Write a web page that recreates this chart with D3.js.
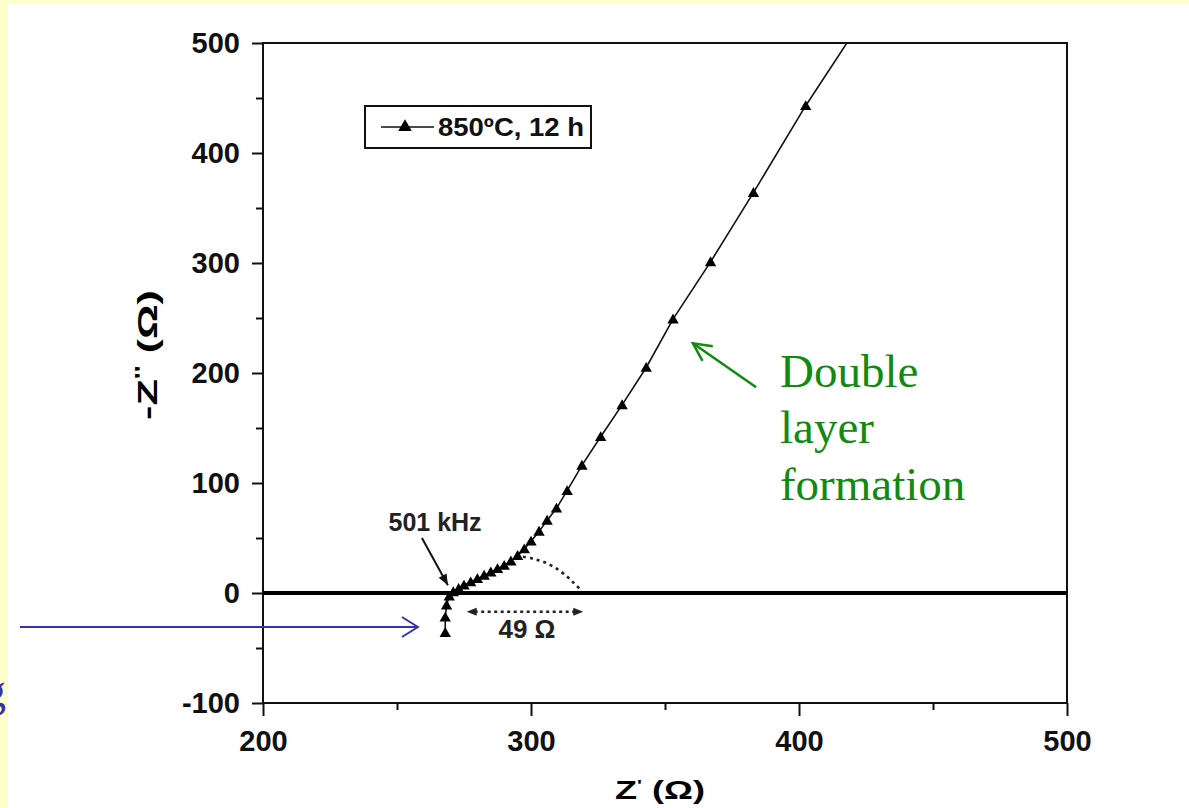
<!DOCTYPE html>
<html>
<head>
<meta charset="utf-8">
<script src="https://cdn.jsdelivr.net/npm/d3@7"></script>
<style>
  html, body { margin: 0; padding: 0; background: #ffffcc; }
  svg { display: block; }
  .tick text { font-family: 'Liberation Sans', Arial, sans-serif; font-weight: bold; font-size: 29px; fill: #111; }
  .tick line { stroke: #111; stroke-width: 2; }
</style>
</head>
<body>
<svg></svg>
<script>
// impedance data: Z' and -Z'' (ohm)
const zReal = [268, 268, 268.5, 269.5, 271, 273, 275, 277.5, 280, 282.5, 285, 287.5, 290, 292.5, 295, 297.5, 300, 303, 306, 309.5, 313.5, 319, 326, 334, 343, 353, 367, 383, 402.5, 430]
const zImag = [-36, -22, -11, -3, 1, 4, 7, 10, 13, 16, 19, 22, 25, 29, 34, 40, 47, 56, 66, 77, 93, 116, 142, 171, 205, 249, 301, 364, 443, 545]

// dotted semicircle continuation
const arcReal = [297, 301, 305, 309, 313, 316, 318.5]
const arcImag = [33, 31, 28, 23, 16, 9, 3]

const xMajor = [200, 300, 400, 500]
const xMinor = [250, 350, 450]
const yMajor = [-100, 0, 100, 200, 300, 400, 500]
const yMinor = [-50, 50, 150, 250, 350, 450]

const seriesName = '850ºC, 12 h'

const w = 1189
const h = 808
const plot = { left: 263, right: 1067, top: 43, bottom: 703 }

const svg = d3.select('svg')
  .attr('width', w)
  .attr('height', h)

// slide background: yellow border, white page
svg.append('rect')
  .attr('x', 0).attr('y', 0).attr('width', w).attr('height', h)
  .attr('fill', '#ffffcc')
svg.append('rect')
  .attr('x', 8).attr('y', 4).attr('width', w - 8).attr('height', h - 4)
  .attr('fill', '#fff')

const xScale = d3.scaleLinear()
  .domain([200, 500])
  .range([plot.left, plot.right])

const yScale = d3.scaleLinear()
  .domain([-100, 500])
  .range([plot.bottom, plot.top])

// plain hyphen for negatives, like the original
const fmt = d => String(d)

// axes
const gx = svg.append('g')
  .attr('transform', `translate(0, ${plot.bottom})`)
  .call(d3.axisBottom(xScale).tickValues(xMajor).tickSize(13).tickPadding(14).tickFormat(fmt))
gx.select('.domain').remove()

const gxMinor = svg.append('g')
  .attr('transform', `translate(0, ${plot.bottom})`)
  .call(d3.axisBottom(xScale).tickValues(xMinor).tickSize(7).tickFormat(''))
gxMinor.select('.domain').remove()

const gy = svg.append('g')
  .attr('transform', `translate(${plot.left}, 0)`)
  .call(d3.axisLeft(yScale).tickValues(yMajor).tickSize(11).tickPadding(12).tickFormat(fmt))
gy.select('.domain').remove()

const gyMinor = svg.append('g')
  .attr('transform', `translate(${plot.left}, 0)`)
  .call(d3.axisLeft(yScale).tickValues(yMinor).tickSize(7).tickFormat(''))
gyMinor.select('.domain').remove()

// frame
svg.append('rect')
  .attr('x', plot.left)
  .attr('y', plot.top)
  .attr('width', plot.right - plot.left)
  .attr('height', plot.bottom - plot.top)
  .attr('fill', 'none')
  .attr('stroke', '#111')
  .attr('stroke-width', 2)

// zero line
svg.append('line')
  .attr('x1', plot.left).attr('x2', plot.right)
  .attr('y1', yScale(0)).attr('y2', yScale(0))
  .attr('stroke', '#000')
  .attr('stroke-width', 4)

// axis titles
svg.append('text')
  .attr('x', 615)
  .attr('y', 799)
  .attr('textLength', 90)
  .attr('lengthAdjust', 'spacingAndGlyphs')
  .style('font-family', "'Liberation Sans', Arial, sans-serif")
  .style('font-weight', 'bold')
  .style('font-size', '26px')
  .html("Z<tspan dy='-9' font-size='15'>'</tspan><tspan dy='9'> (Ω)</tspan>")

svg.append('text')
  .attr('transform', 'translate(157, 420) rotate(-90)')
  .attr('textLength', 130)
  .attr('lengthAdjust', 'spacingAndGlyphs')
  .style('font-family', "'Liberation Sans', Arial, sans-serif")
  .style('font-weight', 'bold')
  .style('font-size', '27px')
  .html("-Z<tspan dy='-9' font-size='18'>''</tspan><tspan dy='9'> (Ω)</tspan>")

// clip for the data
svg.append('clipPath')
  .attr('id', 'plot-clip')
  .append('rect')
  .attr('x', plot.left).attr('y', plot.top)
  .attr('width', plot.right - plot.left)
  .attr('height', plot.bottom - plot.top)

const points = zReal.map((d, i) => ({ x: d, y: zImag[i] }))
const dataG = svg.append('g').attr('clip-path', 'url(#plot-clip)')

const line = d3.line()
  .x(d => xScale(d.x))
  .y(d => yScale(d.y))

dataG.append('path')
  .datum(points)
  .attr('d', line)
  .attr('fill', 'none')
  .attr('stroke', '#111')
  .attr('stroke-width', 1.6)

const tri = d3.symbol().type(d3.symbolTriangle).size(56)

dataG.selectAll('.pt')
  .data(points)
  .enter()
  .append('path')
  .attr('class', 'pt')
  .attr('d', tri)
  .attr('transform', d => `translate(${xScale(d.x)}, ${yScale(d.y) + 1})`)
  .attr('fill', '#000')

// dotted semicircle
const arcPts = arcReal.map((d, i) => ({ x: d, y: arcImag[i] }))
svg.append('path')
  .datum(arcPts)
  .attr('d', d3.line().x(d => xScale(d.x)).y(d => yScale(d.y)).curve(d3.curveCatmullRom))
  .attr('fill', 'none')
  .attr('stroke', '#222')
  .attr('stroke-width', 2.6)
  .attr('stroke-dasharray', '3,4')

// helpers for arrowheads
const headPath = (x1, y1, x2, y2, len, half) => {
  const a = Math.atan2(y2 - y1, x2 - x1)
  const bx = x2 - len * Math.cos(a)
  const by = y2 - len * Math.sin(a)
  const px = -Math.sin(a) * half
  const py = Math.cos(a) * half
  return [[bx + px, by + py], [x2, y2], [bx - px, by - py]]
}

// 501 kHz arrow
const kHzFrom = [259.3, 50]
const kHzTo = [269, 7]
{
  const x1 = xScale(kHzFrom[0]); const y1 = yScale(kHzFrom[1])
  const x2 = xScale(kHzTo[0]); const y2 = yScale(kHzTo[1])
  svg.append('line')
    .attr('x1', x1).attr('y1', y1).attr('x2', x2).attr('y2', y2)
    .attr('stroke', '#111').attr('stroke-width', 2)
  svg.append('path')
    .attr('d', d3.line()(headPath(x1, y1, x2, y2, 11, 4.5)) + 'Z')
    .attr('fill', '#111')
}
svg.append('text')
  .attr('x', xScale(264.2))
  .attr('y', yScale(56.4))
  .attr('text-anchor', 'middle')
  .style('font-family', "'Liberation Sans', Arial, sans-serif")
  .style('font-weight', 'bold')
  .style('font-size', '25px')
  .attr('fill', '#222')
  .text('501 kHz')

// 49 ohm span
const spanX = [276, 319.5]
const spanY = -17
{
  const x1 = xScale(spanX[0]); const x2 = xScale(spanX[1]); const y = yScale(spanY)
  svg.append('line')
    .attr('x1', x1 + 8).attr('x2', x2 - 8).attr('y1', y).attr('y2', y)
    .attr('stroke', '#222').attr('stroke-width', 2.4)
    .attr('stroke-dasharray', '3,3.5')
  svg.append('path')
    .attr('d', d3.line()(headPath(x2, y, x1, y, 10, 4)) + 'Z')
    .attr('fill', '#222')
  svg.append('path')
    .attr('d', d3.line()(headPath(x1, y, x2, y, 10, 4)) + 'Z')
    .attr('fill', '#222')
}
svg.append('text')
  .attr('x', xScale(298.5))
  .attr('y', yScale(-41))
  .attr('text-anchor', 'middle')
  .style('font-family', "'Liberation Sans', Arial, sans-serif")
  .style('font-weight', 'bold')
  .style('font-size', '26px')
  .attr('fill', '#222')
  .text('49 Ω')

// legend
const legend = svg.append('g')
legend.append('rect')
  .attr('x', 365).attr('y', 106)
  .attr('width', 226).attr('height', 42)
  .attr('fill', '#fff')
  .attr('stroke', '#111')
  .attr('stroke-width', 2)
legend.append('line')
  .attr('x1', 381).attr('x2', 434).attr('y1', 127).attr('y2', 127)
  .attr('stroke', '#111').attr('stroke-width', 1.6)
legend.append('path')
  .attr('d', d3.symbol().type(d3.symbolTriangle).size(80))
  .attr('transform', 'translate(405, 127)')
  .attr('fill', '#000')
legend.append('text')
  .attr('x', 438)
  .attr('y', 136)
  .attr('textLength', 146)
  .attr('lengthAdjust', 'spacingAndGlyphs')
  .style('font-family', "'Liberation Sans', Arial, sans-serif")
  .style('font-weight', 'bold')
  .style('font-size', '25px')
  .attr('fill', '#111')
  .text(seriesName)

// green slide annotation
const green = '#128a12'
const greenFrom = [384, 187]
const greenTo = [360.4, 227]
{
  const x1 = xScale(greenFrom[0]); const y1 = yScale(greenFrom[1])
  const x2 = xScale(greenTo[0]); const y2 = yScale(greenTo[1])
  svg.append('line')
    .attr('x1', x1).attr('y1', y1).attr('x2', x2).attr('y2', y2)
    .attr('stroke', green).attr('stroke-width', 2.5)
  svg.append('path')
    .attr('d', d3.line()(headPath(x1, y1, x2, y2, 18, 9)))
    .attr('fill', 'none')
    .attr('stroke', green).attr('stroke-width', 2.5)
}
const greenLines = ['Double', 'layer', 'formation']
svg.append('g').selectAll('text')
  .data(greenLines)
  .enter()
  .append('text')
  .attr('x', xScale(392.9))
  .attr('y', (d, i) => yScale(187.3) + i * 56.5)
  .style('font-family', "'Liberation Serif', 'Times New Roman', serif")
  .style('font-size', '47px')
  .attr('fill', green)
  .text(d => d)

// blue slide arrow and the end of a word cut by the slide edge
const blue = '#3434a6'
const blueFrom = [109.3, -30.9]
const blueTo = [257.8, -30.9]
{
  const x1 = xScale(blueFrom[0]); const y1 = yScale(blueFrom[1])
  const x2 = xScale(blueTo[0]); const y2 = yScale(blueTo[1])
  svg.append('line')
    .attr('x1', x1).attr('y1', y1).attr('x2', x2).attr('y2', y2)
    .attr('stroke', blue).attr('stroke-width', 2)
  svg.append('path')
    .attr('d', d3.line()(headPath(x1, y1, x2, y2, 16, 10)))
    .attr('fill', 'none')
    .attr('stroke', blue).attr('stroke-width', 2)
}
svg.append('text')
  .attr('x', 6)
  .attr('y', 706)
  .attr('text-anchor', 'end')
  .style('font-family', "'Liberation Serif', 'Times New Roman', serif")
  .style('font-size', '46px')
  .attr('fill', blue)
  .text('g')
</script>
</body>
</html>
